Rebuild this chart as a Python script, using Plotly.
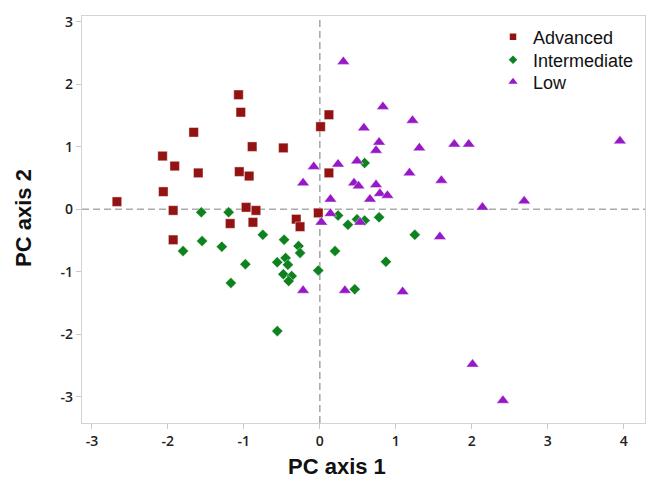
import plotly.graph_objects as go

# Advanced (red squares)
adv_x = [-1.07, -1.04, -1.66, -0.89, -0.48, -2.07, -1.91, -1.60, -1.06, -0.93, -2.06, -2.67,
         -1.93, -0.97, -0.84, -0.02, 0.01, 0.12, 0.12, -1.18, -0.88, -0.31, -0.26, -1.93]
adv_y = [1.83, 1.55, 1.23, 1.00, 0.98, 0.85, 0.69, 0.58, 0.60, 0.53, 0.28, 0.12,
         -0.02, 0.03, -0.02, -0.06, 1.32, 1.51, 0.58, -0.23, -0.21, -0.16, -0.28, -0.49]

# Intermediate (green diamonds)
int_x = [-1.56, -1.20, -1.55, -1.80, -1.29, -0.75, -0.47, -0.28, -0.26, -0.98, -0.56, -0.45,
         -0.42, -0.48, -0.37, -0.41, -1.17, -0.02, -0.56, 0.59, 0.24, 0.37, 0.49, 0.59,
         0.78, 1.25, 0.20, 0.87, 0.46]
int_y = [-0.05, -0.05, -0.51, -0.67, -0.60, -0.41, -0.49, -0.59, -0.70, -0.88, -0.85, -0.78,
         -0.89, -1.04, -1.07, -1.15, -1.18, -0.98, -1.95, 0.74, -0.10, -0.25, -0.16, -0.18,
         -0.13, -0.41, -0.67, -0.84, -1.28]

# Low (purple triangles)
low_x = [0.31, 0.83, 1.22, 0.58, 0.78, 0.74, 1.31, 1.77, 1.96, -0.08, 0.24, 0.49, -0.22,
         1.18, 1.60, 0.45, 0.51, 0.74, 0.79, 0.89, 0.14, 0.66, 2.14, 0.14, 0.02, 0.53,
         1.58, -0.22, 0.33, 1.09, 3.95, 2.69, 2.01, 2.41]
low_y = [2.36, 1.64, 1.42, 1.30, 1.07, 0.94, 0.98, 1.04, 1.04, 0.68, 0.72, 0.77, 0.42,
         0.58, 0.46, 0.42, 0.37, 0.39, 0.25, 0.22, 0.16, 0.16, 0.03, -0.07, -0.21, -0.21,
         -0.44, -1.30, -1.30, -1.32, 1.09, 0.13, -2.48, -3.06]

xtick_vals = [-3, -2, -1, 0, 1, 2, 3, 4]
xtick_text = ["-3", "-2", "-1", "0", "1", "2", "3", "4"]
ytick_vals = [-3, -2, -1, 0, 1, 2, 3]
ytick_text = ["-3", "-2", "-1", "0", "1", "2", "3"]

series = [
    ("Advanced", adv_x, adv_y, "square", 9.5, 6.5, "#931313", "legend"),
    ("Intermediate", int_x, int_y, "diamond", 8.5, 6.5, "#0E821E", "legend2"),
    ("Low", low_x, low_y, "triangle-up", 11, 8, "#9718C6", "legend3"),
]

fig = go.Figure()
outline = dict(color="rgba(255,255,255,0.7)", width=0.6)
for name, xs, ys, sym, size, lsize, color, leg in series:
    fig.add_trace(go.Scatter(x=xs, y=ys, mode="markers", name=name, showlegend=False,
                             marker=dict(symbol=sym, size=size, color=color, line=outline)))
    # legend-only entry (smaller symbol as in the reference legend)
    fig.add_trace(go.Scatter(x=[None], y=[None], mode="markers", name=name, legend=leg,
                             marker=dict(symbol=sym, size=lsize, color=color)))

fig.add_hline(y=0, line=dict(color="#ababab", width=1.6, dash="7px,4px"), layer="below")
fig.add_vline(x=0, line=dict(color="#ababab", width=1.6, dash="7px,4px"), layer="below")

axis_common = dict(showgrid=False, zeroline=False, showline=True, linecolor="#d3d3d3",
                   linewidth=1.2, mirror=True, ticks="outside", ticklen=5, tickcolor="#c8c8c8",
                   tickfont=dict(family="Open Sans", size=14, color="#222", weight=600))
fig.update_xaxes(range=[-3.13, 4.28], tickvals=xtick_vals, ticktext=xtick_text, **axis_common)
fig.update_yaxes(range=[-3.42, 3.09], tickvals=ytick_vals, ticktext=ytick_text, **axis_common)

fig.add_annotation(text="<b>PC axis 1</b>", x=0.453, y=-0.108, xref="paper", yref="paper",
                   showarrow=False, xanchor="center", yanchor="middle",
                   font=dict(family="Liberation Sans", size=22, color="#111"))
fig.add_annotation(text="<b>PC axis 2</b>", x=-0.103, y=0.504, xref="paper", yref="paper",
                   showarrow=False, xanchor="center", yanchor="middle", textangle=-90,
                   font=dict(family="Liberation Sans", size=22, color="#111"))

leg_common = dict(xanchor="left", yanchor="middle", bgcolor="rgba(0,0,0,0)",
                  font=dict(family="Liberation Sans", size=18, color="#111"))
# legend rows at y = 37, 60, 82 px; plot area from 16 to 423 px
fig.update_layout(
    width=647, height=479,
    margin=dict(l=82, r=2, t=16, b=56),
    plot_bgcolor="white", paper_bgcolor="white",
    showlegend=True,
    legend=dict(x=(493 - 82) / 563, y=(423 - 37) / 407, **leg_common),
    legend2=dict(x=(493 - 82) / 563, y=(423 - 60) / 407, **leg_common),
    legend3=dict(x=(493 - 82) / 563, y=(423 - 82) / 407, **leg_common),
)

fig.write_html("out.html", config={"displayModeBar": False},
               post_script="document.body.style.margin='0';")
